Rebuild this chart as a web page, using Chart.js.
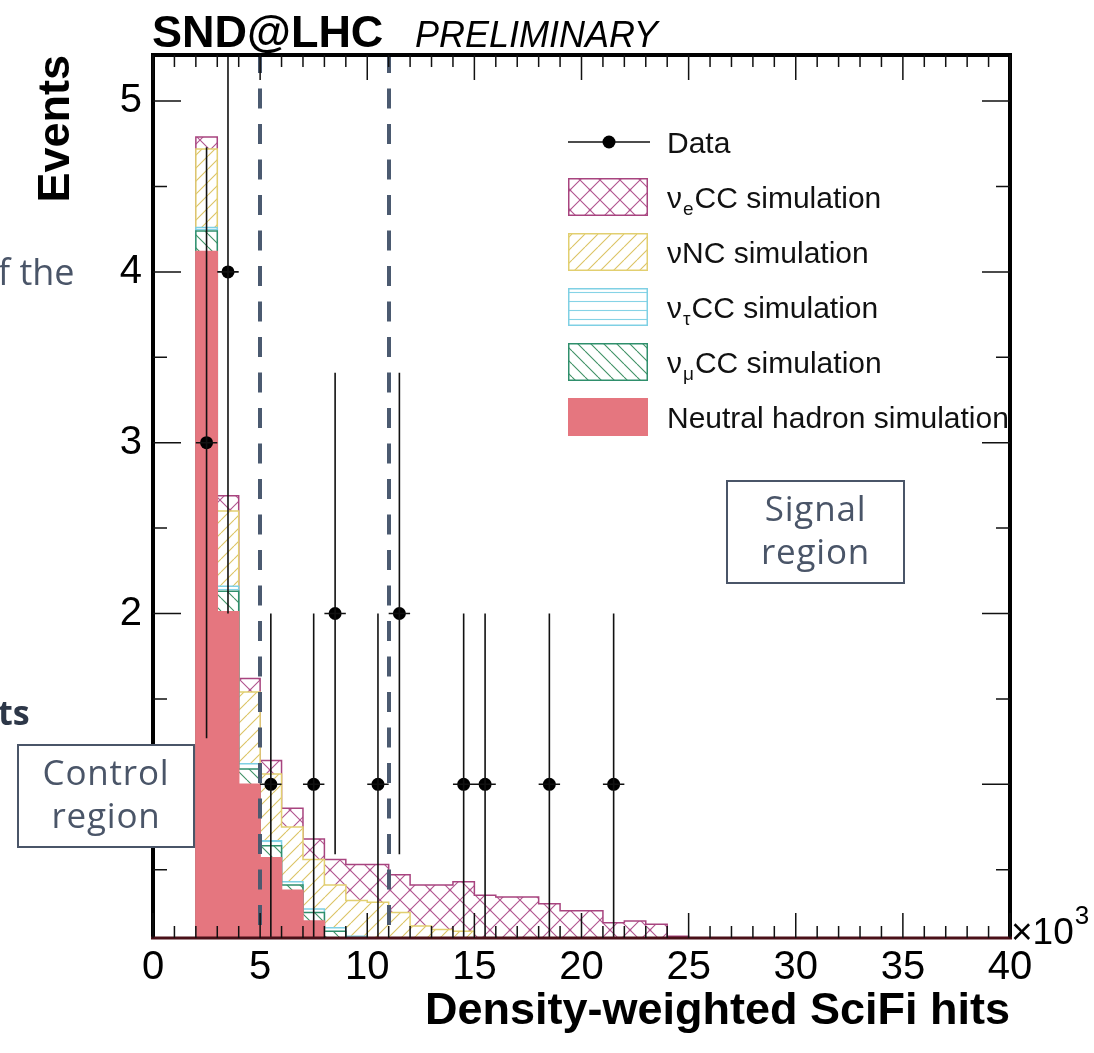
<!DOCTYPE html>
<html>
<head>
<meta charset="utf-8">
<title>SND@LHC density-weighted SciFi hits</title>
<script src="https://cdn.jsdelivr.net/npm/chart.js@4.4.1/dist/chart.umd.min.js"></script>
<style>
  html, body { margin: 0; padding: 0; background: #fff; overflow: hidden; }
  canvas { display: block; }
</style>
</head>
<body>
<canvas id="chart" width="1094" height="1053"></canvas>
<script>
// Histogram bin edges, in units of 10^3 density-weighted SciFi hits
const binEdges = [2,3,4,5,6,7,8,9,10,11,12,13,14,15,16,17,18,19,20,21,22,23,24,25];

// Expected events per bin for each simulated component (stacked bottom to top)
const neutralHadron = [4.12,2.01,1.00,0.57,0.38,0.20,0.08,0.04,0.02,0.01,0.01,0,0,0,0,0,0,0,0,0,0,0,0];
const numuCC        = [0.12,0.12,0.09,0.07,0.03,0.05,0.06,0.05,0.04,0.03,0.02,0.02,0.01,0.01,0.01,0,0,0,0,0,0,0,0];
const nutauCC       = [0.02,0.03,0.03,0.03,0.02,0.02,0.02,0.02,0.02,0.02,0.01,0.01,0.01,0,0,0.01,0,0,0,0,0,0,0];
const nuNC          = [0.46,0.44,0.42,0.39,0.32,0.29,0.25,0.21,0.23,0.19,0.13,0.12,0.12,0.07,0.06,0.05,0.05,0.04,0.03,0.03,0.02,0.02,0.01];
const nueCC         = [0.07,0.09,0.08,0.08,0.11,0.12,0.15,0.21,0.22,0.22,0.24,0.26,0.29,0.27,0.27,0.28,0.25,0.22,0.23,0.16,0.18,0.16,0.10];

// Observed events (bin centres), with their vertical and horizontal errors
const dataX    = [2.5,3.5,5.5,7.5,8.5,10.5,11.5,14.5,15.5,18.5,21.5];
const dataY    = [3,4,1,1,2,1,2,1,1,1,1];
const dataErrY = [1.73,2,1,1,1.41,1,1.41,1,1,1,1];
const dataErrX = [0.5,0.5,0.5,0.5,0.5,0.5,0.5,0.5,0.5,0.5,0.5];

// Axis ticks and region boundaries
const xTicks = [0,5,10,15,20,25,30,35,40];
const yTicks = [1,2,3,4,5];
const regionCuts = [5, 11];

const FONT = "'Liberation Sans', Arial, Helvetica, sans-serif";
const SLIDE_FONT = "'Open Sans', Lato, sans-serif";
const SLATE = '#4a5568';

const canvas = document.getElementById('chart');
const ctx = canvas.getContext('2d');

// Hatched fill patterns on white, in the style of ROOT fill styles
function makePattern(size, color, draw) {
  const c = document.createElement('canvas');
  c.width = size; c.height = size;
  const g = c.getContext('2d');
  g.fillStyle = '#ffffff';
  g.fillRect(0, 0, size, size);
  g.strokeStyle = color;
  g.fillStyle = color;
  g.lineWidth = 1.1;
  draw(g, size);
  return ctx.createPattern(c, 'repeat');
}
function slash(g, s) {
  g.beginPath();
  for (let k = -1; k <= 1; k++) { g.moveTo(k * s, s); g.lineTo(k * s + s, 0); }
  g.stroke();
}
function backslash(g, s) {
  g.beginPath();
  for (let k = -1; k <= 1; k++) { g.moveTo(k * s, 0); g.lineTo(k * s + s, s); }
  g.stroke();
}
const patNueCC = makePattern(20, '#b0548e', (g, s) => {
  slash(g, s); backslash(g, s);
  g.beginPath(); g.arc(s / 2, s / 2, 1.3, 0, Math.PI * 2); g.fill();
});
const patNuNC = makePattern(13, '#dcc464', slash);
const patNutau = makePattern(9, '#86d3e6', (g, s) => {
  g.beginPath(); g.moveTo(0, s / 2); g.lineTo(s, s / 2); g.stroke();
});
const patNumu = makePattern(13, '#3f9165', backslash);

const components = [
  { label: 'Neutral hadron simulation', values: neutralHadron, fill: '#e5767f', line: '#e5767f' },
  { label: 'νμCC simulation',           values: numuCC,        fill: patNumu,   line: '#2f8f6c' },
  { label: 'ντCC simulation',           values: nutauCC,       fill: patNutau,  line: '#7fd0e4' },
  { label: 'νNC simulation',            values: nuNC,          fill: patNuNC,   line: '#e2cf70' },
  { label: 'νeCC simulation',           values: nueCC,         fill: patNueCC,  line: '#a8447f' }
];

// Running sums give the top edge of each stacked layer
let running = neutralHadron.map(() => 0);
components.forEach(c => {
  running = running.map((v, i) => v + c.values[i]);
  c.cumulative = running.slice();
});

// Step outline: rise at the first edge, hold each bin, drop at the last edge
function stepOutline(cum) {
  const pts = [{ x: binEdges[0], y: 0 }];
  cum.forEach((v, i) => pts.push({ x: binEdges[i], y: v }));
  pts.push({ x: binEdges[binEdges.length - 1], y: 0 });
  return pts;
}

const histDatasets = components.map((c, i) => ({
  label: c.label,
  data: stepOutline(c.cumulative),
  stepped: true,
  borderColor: c.line,
  borderWidth: 1.5,
  backgroundColor: c.fill,
  fill: i === 0 ? 'origin' : '-1',
  pointRadius: 0,
  order: 0
}));

const dataDataset = {
  label: 'Data',
  data: dataX.map((x, i) => ({ x, y: dataY[i] })),
  showLine: false,
  pointRadius: 6.5,
  pointBackgroundColor: '#000',
  pointBorderColor: '#000',
  pointBorderWidth: 0,
  order: -1
};

// Error bars, region boundaries, frame, ticks, legend and annotations
const decorations = {
  id: 'decorations',
  afterDatasetsDraw(chart) {
    const c = chart.ctx;
    const xs = chart.scales.x, ys = chart.scales.y;
    const a = chart.chartArea;
    c.save();
    c.beginPath(); c.rect(a.left, a.top, a.right - a.left, a.bottom - a.top); c.clip();
    c.strokeStyle = '#111'; c.lineWidth = 1.6;
    c.beginPath();
    dataX.forEach((x, i) => {
      const px = xs.getPixelForValue(x);
      const py = ys.getPixelForValue(dataY[i]);
      c.moveTo(px, ys.getPixelForValue(dataY[i] - dataErrY[i]));
      c.lineTo(px, ys.getPixelForValue(dataY[i] + dataErrY[i]));
      c.moveTo(xs.getPixelForValue(x - dataErrX[i]), py);
      c.lineTo(xs.getPixelForValue(x + dataErrX[i]), py);
    });
    c.stroke();
    c.restore();

    // Control / signal region boundaries
    c.save();
    c.strokeStyle = '#4b5a70'; c.lineWidth = 4; c.setLineDash([20, 15.5]);
    regionCuts.forEach(v => {
      const px = Math.round(xs.getPixelForValue(v));
      c.beginPath(); c.moveTo(px, a.top - 2); c.lineTo(px, a.bottom); c.stroke();
    });
    c.restore();
  },
  afterDraw(chart) {
    const c = chart.ctx;
    const xs = chart.scales.x, ys = chart.scales.y;
    const a = chart.chartArea;

    // Legend
    c.save();
    c.beginPath(); c.rect(0, 0, a.right, chart.height); c.clip();
    const lx = 568, tx = 667, rowH = 55, row0 = 142;
    c.strokeStyle = '#111'; c.lineWidth = 1.5;
    c.beginPath(); c.moveTo(lx, row0); c.lineTo(lx + 82, row0); c.stroke();
    c.fillStyle = '#000';
    c.beginPath(); c.arc(lx + 41, row0, 6.5, 0, Math.PI * 2); c.fill();
    const entries = [
      { comp: components[4], parts: ['ν', 'e', 'CC simulation'] },
      { comp: components[3], parts: ['νNC simulation'] },
      { comp: components[2], parts: ['ν', 'τ', 'CC simulation'] },
      { comp: components[1], parts: ['ν', 'μ', 'CC simulation'] },
      { comp: components[0], parts: ['Neutral hadron simulation'] }
    ];
    function legendText(parts, y) {
      c.fillStyle = '#111';
      c.textBaseline = 'alphabetic'; c.textAlign = 'left';
      c.font = `30px ${FONT}`;
      let x = tx;
      c.fillText(parts[0], x, y);
      x += c.measureText(parts[0]).width;
      if (parts.length > 1) {
        c.font = `19px ${FONT}`;
        c.fillText(parts[1], x + 1, y + 7);
        x += c.measureText(parts[1]).width + 2;
        c.font = `30px ${FONT}`;
        c.fillText(parts[2], x, y);
      }
    }
    legendText(['Data'], row0 + 10.5);
    entries.forEach((e, i) => {
      const cy = row0 + rowH * (i + 1);
      const top = cy - 19;
      c.fillStyle = e.comp.fill;
      c.fillRect(lx, top, 80, 38);
      if (i < 4) {
        c.strokeStyle = e.comp.line; c.lineWidth = 1.5;
        c.strokeRect(lx + 0.75, top + 0.75, 78.5, 36.5);
      }
      legendText(e.parts, cy + 10.5);
    });
    c.restore();

    // Frame
    c.save();
    c.strokeStyle = '#000'; c.lineWidth = 4;
    c.beginPath();
    c.moveTo(a.left, a.bottom); c.lineTo(a.left, a.top);
    c.lineTo(a.right, a.top); c.lineTo(a.right, a.bottom);
    c.stroke();
    c.strokeStyle = '#4a1018'; c.lineWidth = 3;
    c.beginPath(); c.moveTo(a.left - 2, a.bottom); c.lineTo(a.right + 2, a.bottom); c.stroke();

    // Inward ticks on all four sides
    c.strokeStyle = '#111'; c.lineWidth = 1.5;
    c.beginPath();
    for (let v = xs.min; v <= xs.max; v += 1) {
      const px = xs.getPixelForValue(v);
      const len = xTicks.includes(v) ? 25 : 12;
      c.moveTo(px, a.bottom); c.lineTo(px, a.bottom - len);
      c.moveTo(px, a.top); c.lineTo(px, a.top + len);
    }
    for (let v = 0.5; v <= ys.max; v += 0.5) {
      if (v < ys.min) continue;
      const py = ys.getPixelForValue(v);
      const len = yTicks.includes(v) ? 28 : 14;
      c.moveTo(a.left, py); c.lineTo(a.left + len, py);
      c.moveTo(a.right, py); c.lineTo(a.right - len, py);
    }
    c.stroke();
    c.restore();

    // Header
    c.save();
    c.fillStyle = '#000'; c.textAlign = 'left'; c.textBaseline = 'alphabetic';
    c.font = `bold 45px ${FONT}`;
    c.fillText('SND@LHC', 152, 47);
    c.font = `italic 36px ${FONT}`;
    c.fillText('PRELIMINARY', 415, 47);
    // Axis multiplier
    c.font = `37px ${FONT}`;
    c.fillText('×10', 1011, 944);
    const w = c.measureText('×10').width;
    c.font = `26px ${FONT}`;
    c.fillText('3', 1011 + w + 1, 924);
    c.restore();

    // Region labels
    function regionBox(x0, y0, w, h, lines) {
      c.save();
      c.fillStyle = '#fff';
      c.fillRect(x0, y0, w, h);
      c.strokeStyle = SLATE; c.lineWidth = 2;
      c.strokeRect(x0, y0, w, h);
      c.fillStyle = SLATE; c.textAlign = 'center'; c.textBaseline = 'alphabetic';
      c.font = `35px ${SLIDE_FONT}`;
      c.letterSpacing = '0.8px';
      c.fillText(lines[0], x0 + w / 2, y0 + 40);
      c.fillText(lines[1], x0 + w / 2, y0 + 83);
      c.restore();
    }
    regionBox(18, 745, 176, 102, ['Control', 'region']);
    regionBox(727, 481, 177, 102, ['Signal', 'region']);

    // Surrounding slide text
    c.save();
    c.textAlign = 'left'; c.textBaseline = 'alphabetic';
    c.fillStyle = SLATE;
    c.font = `36px ${SLIDE_FONT}`;
    c.fillText('f the', -2, 285);
    c.fillStyle = '#2d3748';
    c.font = `bold 34px ${SLIDE_FONT}`;
    c.fillText('ts', -2, 725);
    c.restore();
  }
};

new Chart(ctx, {
  type: 'line',
  data: { datasets: [...histDatasets, dataDataset] },
  options: {
    responsive: false,
    animation: false,
    events: [],
    layout: { padding: { left: 0, right: 84, top: 55, bottom: 0 } },
    plugins: { legend: { display: false }, tooltip: { enabled: false } },
    scales: {
      x: {
        type: 'linear', min: 0, max: 40,
        afterFit(s) { s.height = 115; },
        afterBuildTicks(s) { s.ticks = xTicks.map(v => ({ value: v })); },
        ticks: { autoSkip: false, maxRotation: 0, padding: 6, color: '#000',
                 font: { size: 40, family: FONT }, callback: v => String(v) },
        grid: { display: false, drawTicks: false },
        border: { display: false },
        title: { display: true, text: 'Density-weighted SciFi hits', align: 'end', color: '#000',
                 font: { size: 45, weight: 'bold', family: FONT }, padding: { top: 0, bottom: 14 } }
      },
      y: {
        type: 'linear', min: 0.1, max: 5.27,
        afterFit(s) { s.width = 153; },
        afterBuildTicks(s) { s.ticks = yTicks.map(v => ({ value: v })); },
        ticks: { padding: 11, color: '#000', font: { size: 40, family: FONT }, callback: v => String(v) },
        grid: { display: false, drawTicks: false },
        border: { display: false },
        title: { display: true, text: 'Events', align: 'end', color: '#000',
                 font: { size: 45, weight: 'bold', family: FONT }, padding: { top: 30, bottom: 0 } }
      }
    }
  },
  plugins: [decorations]
});
</script>
</body>
</html>
